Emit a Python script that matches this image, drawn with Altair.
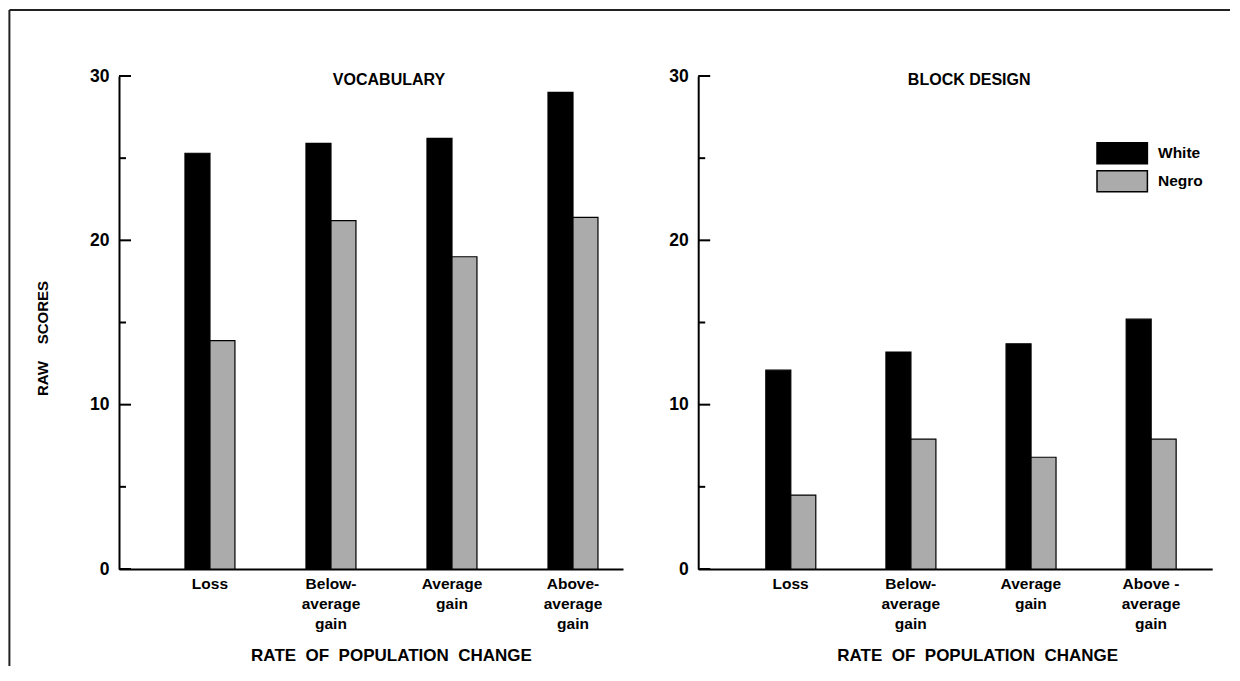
import altair as alt
import pandas as pd

# ---- data ----
groups = ["White", "Negro"]
categories_vocab = ["Loss", "Below-|average|gain", "Average|gain", "Above-|average|gain"]
categories_block = ["Loss", "Below-|average|gain", "Average|gain", "Above -|average|gain"]
vocab_white = [25.3, 25.9, 26.2, 29.0]
vocab_negro = [13.9, 21.2, 19.0, 21.4]
block_white = [12.1, 13.2, 13.7, 15.2]
block_negro = [4.5, 7.9, 6.8, 7.9]
major_ticks = [0, 10, 20, 30]
minor_ticks = [5, 15, 25]
colors = ["#000000", "#ababab"]

FONT = "Liberation Sans"
H = 493
NB = "\u00a0"
XTITLE = f"RATE{NB*2}OF{NB*2}POPULATION{NB*2}CHANGE"
YTITLE = f"RAW{NB*4}SCORES"


def make_df(cats, white, negro):
    rows = []
    for c, w, n in zip(cats, white, negro):
        rows.append({"cat": c, "group": "White", "score": w})
        rows.append({"cat": c, "group": "Negro", "score": n})
    return pd.DataFrame(rows)


def panel(title, cats, white, negro, W, pad_outer, align, show_ytitle,
          show_legend, title_dx, xtitle_dx, with_frame):
    df = make_df(cats, white, negro)
    yscale = alt.Scale(domain=[0, 30], nice=False, zero=True)

    yaxis_kw = dict(values=major_ticks, ticks=False, grid=False, domainWidth=2,
                    domainColor="black", labelFont=FONT, labelFontSize=17.5,
                    labelFontWeight="bold", labelColor="black", labelPadding=10)
    if show_ytitle:
        yaxis_kw.update(title=YTITLE, titleFont=FONT, titleFontSize=15,
                        titleFontWeight="bold", titleColor="black", titleAngle=270,
                        titleX=-76.6, titleY=262, titleAlign="center",
                        titleBaseline="middle")
    else:
        yaxis_kw.update(title=None)

    xaxis = alt.Axis(title=XTITLE, labelAngle=0, labelExpr="split(datum.label, '|')",
                     ticks=False, domainWidth=2, domainColor="black",
                     labelFont=FONT, labelFontSize=15.5, labelFontWeight="bold",
                     labelColor="black", labelPadding=7, labelLineHeight=20,
                     titleFont=FONT, titleFontSize=17, titleFontWeight="bold",
                     titleColor="black", titleX=W / 2 + xtitle_dx, titleY=91,
                     titleAlign="center", titleBaseline="alphabetic")

    if show_legend:
        legend = alt.Legend(orient="none", legendX=412.5, legendY=65.7, title=None,
                            padding=0, symbolType="M-2.4,-1H2.4V1H-2.4Z",
                            symbolSize=441, symbolStrokeColor="black",
                            symbolStrokeWidth=1.5, symbolOpacity=1,
                            labelOffset=24.3, labelFont=FONT, labelFontSize=15.5,
                            labelFontWeight="bold", labelColor="black", rowPadding=1)
    else:
        legend = None

    bars = alt.Chart(df).mark_bar(stroke="black", strokeWidth=1.2).encode(
        x=alt.X("cat:N", sort=cats,
                scale=alt.Scale(paddingInner=0.587, paddingOuter=pad_outer, align=align),
                axis=xaxis),
        xOffset=alt.XOffset("group:N", sort=groups),
        y=alt.Y("score:Q", scale=yscale, axis=alt.Axis(**yaxis_kw)),
        color=alt.Color("group:N", scale=alt.Scale(domain=groups, range=colors),
                        legend=legend),
    )

    major = alt.Chart(pd.DataFrame({"v": major_ticks})).mark_rule(
        color="black", strokeWidth=2).encode(
        y=alt.Y("v:Q", scale=yscale), x=alt.value(0), x2=alt.value(12))
    minor = alt.Chart(pd.DataFrame({"v": minor_ticks})).mark_rule(
        color="black", strokeWidth=2).encode(
        y=alt.Y("v:Q", scale=yscale), x=alt.value(0), x2=alt.value(7))

    ttl = alt.Chart(pd.DataFrame({"t": [title]})).mark_text(
        font=FONT, fontSize=16, fontWeight="bold", color="black",
        align="center", baseline="alphabetic").encode(
        text="t:N", x=alt.value(W / 2 + title_dx), y=alt.value(9))

    layers = [bars, major, minor, ttl]
    if with_frame:
        left_edge = alt.Chart(pd.DataFrame({"e": ["left"]})).mark_rule(
            color="#222222", strokeWidth=2).encode(
            x=alt.value(-109.6), y=alt.value(-66), y2=alt.value(590))
        top_edge = alt.Chart(pd.DataFrame({"e": ["top"]})).mark_rule(
            color="#222222", strokeWidth=2).encode(
            x=alt.value(-109.6), x2=alt.value(1111), y=alt.value(-66))
        layers += [left_edge, top_edge]

    return alt.layer(*layers).properties(width=W, height=H)


left = panel("VOCABULARY", categories_vocab, vocab_white, vocab_negro,
             W=504, pad_outer=0.376, align=0.725, show_ytitle=True,
             show_legend=False, title_dx=18, xtitle_dx=20, with_frame=True)
right = panel("BLOCK DESIGN", categories_block, block_white, block_negro,
              W=514, pad_outer=0.433, align=0.65, show_ytitle=False,
              show_legend=True, title_dx=14, xtitle_dx=22, with_frame=False)

chart = alt.hconcat(left, right, spacing=75.2, bounds="flush").resolve_scale(
    color="independent", y="independent", x="independent"
).properties(
    padding={"left": 0, "top": 1, "right": 0, "bottom": 0},
    background="white",
).configure_view(stroke=None)

chart.save("out.html", embed_options={"renderer": "svg", "actions": False})
